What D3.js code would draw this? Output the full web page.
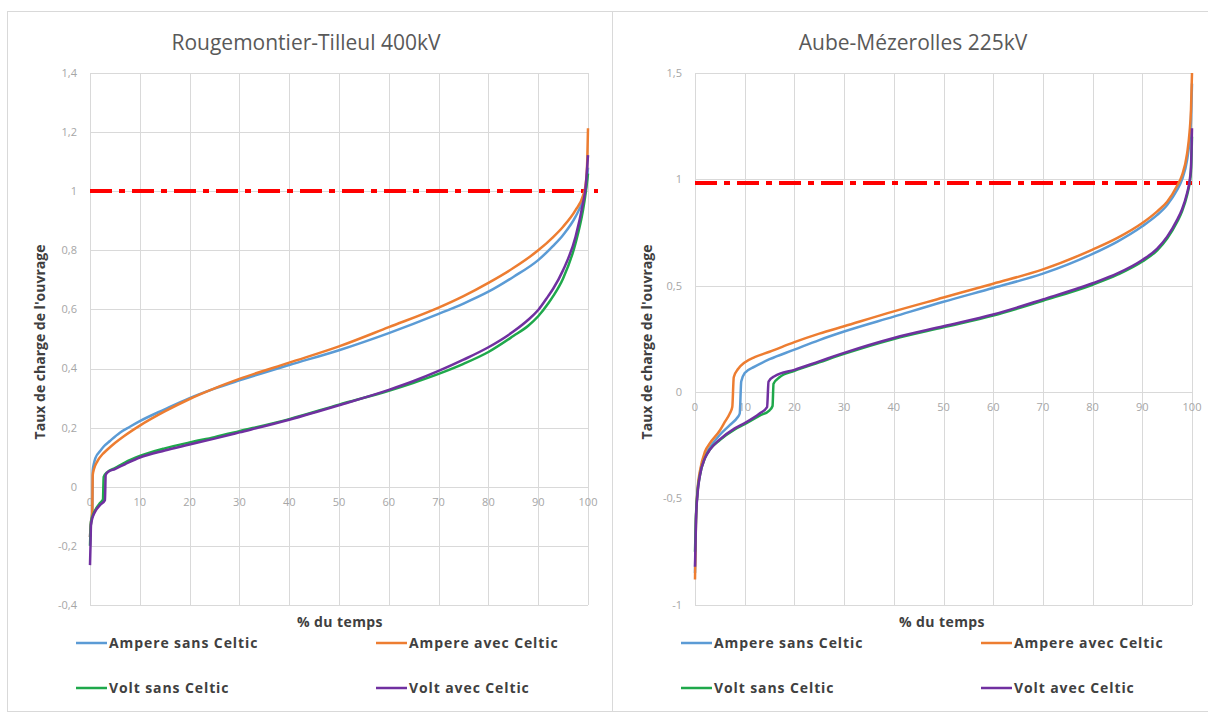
<!DOCTYPE html>
<html><head><meta charset="utf-8">
<script src="https://cdn.jsdelivr.net/npm/d3@7"></script>
<style>
html,body{margin:0;padding:0;background:#fff;}
svg{display:block;font-family:"Open Sans","Noto Sans",sans-serif;}
</style></head>
<body>
<svg id="c" width="1208" height="713"></svg>
<script>
// ---------- DATA ----------
const seriesNames = ["Ampere sans Celtic","Ampere avec Celtic","Volt sans Celtic","Volt avec Celtic"];
const seriesColors = ["#5b9bd5","#ed7d31","#1fa84b","#7030a0"];
const xTicks = [0,10,20,30,40,50,60,70,80,90,100];

// Left chart : Rougemontier-Tilleul 400kV
const leftTitle = "Rougemontier-Tilleul 400kV";
const leftYTicks = [-0.4,-0.2,0,0.2,0.4,0.6,0.8,1,1.2,1.4];
const leftLimit = 1.0;
const leftAmpSansX = [0,0.2,0.45,0.55,0.8,1.1,2,2.8,4,6,8,10,15,20,25,30,40,50,60,70,75,80,85,90,93,95,97.5,99,99.5,99.8,100];
const leftAmpSansY = [-0.17,-0.12,-0.09,0.055,0.08,0.098,0.12,0.137,0.155,0.183,0.203,0.222,0.262,0.3,0.332,0.36,0.412,0.462,0.52,0.585,0.62,0.66,0.71,0.767,0.815,0.852,0.914,0.97,1.0,1.04,1.08];
const leftAmpAvecX = [0,0.2,0.45,0.55,0.8,1.5,2.5,3.5,5,6.8,10,15,20,25,30,40,50,60,70,75,80,85,90,93,95,97.5,99,99.5,99.8,100];
const leftAmpAvecY = [-0.17,-0.12,-0.09,0.04,0.06,0.087,0.11,0.126,0.148,0.171,0.207,0.255,0.297,0.333,0.365,0.42,0.475,0.54,0.606,0.645,0.69,0.74,0.80,0.845,0.88,0.936,0.985,1.02,1.08,1.213];
const leftVoltSansX = [0,0.2,0.5,1,2,2.6,2.75,3.5,5,7,10,15,20,25,30,40,50,60,65,70,75,80,85,88,90,92,93,95,97.5,99,99.5,100];
const leftVoltSansY = [-0.2,-0.12,-0.1,-0.08,-0.055,-0.043,0.033,0.05,0.063,0.082,0.104,0.13,0.15,0.168,0.188,0.229,0.278,0.325,0.352,0.382,0.416,0.456,0.51,0.545,0.577,0.62,0.645,0.705,0.824,0.936,0.99,1.06];
const leftVoltAvecX = [0,0.1,0.2,0.5,1,2,3,3.15,3.6,5,7,10,15,20,25,30,40,50,60,65,70,75,80,85,88,90,92,93,95,97.5,99,99.5,100];
const leftVoltAvecY = [-0.265,-0.2,-0.13,-0.105,-0.085,-0.062,-0.045,0.04,0.05,0.06,0.076,0.099,0.123,0.143,0.163,0.184,0.227,0.276,0.328,0.358,0.392,0.43,0.472,0.525,0.565,0.598,0.645,0.67,0.733,0.846,0.96,1.01,1.122];

// Right chart : Aube-Mézerolles 225kV
const rightTitle = "Aube-Mézerolles 225kV";
const rightYTicks = [-1,-0.5,0,0.5,1,1.5];
const rightLimit = 0.985;
const rightAmpSansX = [0,0.2,0.5,1,2,3,5,7,8.5,9,9.3,10,12,15,20,25,30,40,50,60,70,80,85,90,93,95,97,98,99,99.5,99.8,100];
const rightAmpSansY = [-0.85,-0.6,-0.47,-0.38,-0.3,-0.26,-0.2,-0.155,-0.12,-0.1,0.05,0.09,0.12,0.155,0.2,0.245,0.285,0.355,0.425,0.49,0.557,0.65,0.708,0.78,0.833,0.88,0.95,1.0,1.09,1.18,1.28,1.45];
const rightAmpAvecX = [0,0.2,0.5,1,2,3,5,6,7,7.5,7.8,8.7,10,12,15,20,25,30,40,50,60,70,80,85,90,93,95,97,98,99,99.5,99.8,100];
const rightAmpAvecY = [-0.88,-0.6,-0.46,-0.37,-0.28,-0.24,-0.18,-0.14,-0.1,-0.07,0.07,0.11,0.14,0.165,0.19,0.235,0.275,0.31,0.38,0.445,0.51,0.577,0.67,0.725,0.795,0.85,0.895,0.97,1.02,1.12,1.22,1.33,1.5];
const rightVoltSansX = [0,0.2,0.5,1,2,3,5,8,10,13,15,15.6,15.8,17,20,25,30,40,50,60,70,80,85,90,93,95,97,98,99,99.5,99.8,100];
const rightVoltSansY = [-0.75,-0.58,-0.47,-0.39,-0.31,-0.27,-0.225,-0.175,-0.15,-0.11,-0.085,-0.065,0.04,0.07,0.1,0.14,0.18,0.25,0.305,0.36,0.43,0.505,0.552,0.614,0.667,0.722,0.8,0.85,0.925,0.98,1.04,1.2];
const rightVoltAvecX = [0,0.2,0.5,1,2,3,5,8,10,13,14.5,14.8,16,20,25,30,40,50,60,70,80,85,90,93,95,97,98,99,99.5,99.8,100];
const rightVoltAvecY = [-0.82,-0.6,-0.48,-0.39,-0.31,-0.27,-0.222,-0.17,-0.145,-0.1,-0.07,0.05,0.075,0.105,0.145,0.185,0.255,0.31,0.365,0.436,0.512,0.558,0.621,0.675,0.731,0.81,0.86,0.935,0.99,1.06,1.24];

// ---------- DRAW ----------
const svg = d3.select("#c");
const fmt = v => (Math.round(v*10)/10).toString().replace(".", ",");

function zipXY(xs, ys){ return xs.map((x,i)=>({x:x, y:ys[i]})); }

function drawPanel(p){
  const g = svg.append("g");
  g.append("rect").attr("x",p.box[0]).attr("y",p.box[1]).attr("width",p.box[2]).attr("height",p.box[3])
    .attr("fill","#fff").attr("stroke","#d9d9d9").attr("stroke-width",1);

  const x = d3.scaleLinear().domain([0,100]).range([p.x0,p.x1]);
  const y = d3.scaleLinear().domain([p.yTicks[0], p.yTicks[p.yTicks.length-1]]).range([p.y1,p.y0]);

  // gridlines
  g.append("g").selectAll("line").data(xTicks).join("line")
    .attr("x1",d=>Math.round(x(d))+0.5).attr("x2",d=>Math.round(x(d))+0.5)
    .attr("y1",y.range()[1]).attr("y2",y.range()[0])
    .attr("stroke","#d9d9d9").attr("stroke-width",1);
  g.append("g").selectAll("line").data(p.yTicks).join("line")
    .attr("x1",x(0)).attr("x2",x(100))
    .attr("y1",d=>Math.round(y(d))+0.5).attr("y2",d=>Math.round(y(d))+0.5)
    .attr("stroke","#d9d9d9").attr("stroke-width",1);

  // y tick labels
  g.append("g").selectAll("text").data(p.yTicks).join("text")
    .attr("x",p.x0-13).attr("y",d=>y(d)).attr("dy","0.35em")
    .attr("text-anchor","end").attr("font-size",11).attr("fill","#a6a6a6")
    .text(fmt);
  // x tick labels (at the zero line)
  g.append("g").selectAll("text").data(xTicks).join("text")
    .attr("x",d=>x(d)).attr("y",y(0)+19)
    .attr("text-anchor","middle").attr("font-size",11).attr("fill","#a6a6a6")
    .text(d=>d);

  // limit line
  g.append("line").attr("x1",x(0)).attr("x2",x(100)+p.limitExt)
    .attr("y1",Math.round(y(p.limit))).attr("y2",Math.round(y(p.limit)))
    .attr("stroke","#ff0000").attr("stroke-width",4)
    .attr("stroke-dasharray","22,7,6,7");

  // series
  const line = d3.line().x(d=>x(d.x)).y(d=>y(d.y)).curve(d3.curveMonotoneX);
  p.series.forEach((s,i)=>{
    g.append("path").datum(s).attr("d",line).attr("fill","none")
      .attr("stroke",seriesColors[i]).attr("stroke-width",2.5).attr("stroke-linejoin","round");
  });

  // title
  g.append("text").attr("x",p.titleX).attr("y",50).attr("text-anchor","middle")
    .attr("font-size",21).attr("fill","#595959").text(p.title);
  // y axis title
  g.append("text").attr("transform",`translate(${p.yTitleX},342) rotate(-90)`)
    .attr("text-anchor","middle").attr("font-size",14).attr("font-weight","bold")
    .attr("fill","#404040").text("Taux de charge de l'ouvrage");
  // x axis title
  g.append("text").attr("x",p.xTitleX).attr("y",627).attr("text-anchor","middle")
    .attr("font-size",14).attr("font-weight","bold").attr("fill","#404040")
    .attr("letter-spacing","0.4px").text("% du temps");

  // legend
  const legPos = [[p.leg[0],643],[p.leg[1],643],[p.leg[0],688],[p.leg[1],688]];
  seriesNames.forEach((n,i)=>{
    const [lx,ly] = legPos[i];
    g.append("line").attr("x1",lx).attr("x2",lx+31).attr("y1",ly).attr("y2",ly)
      .attr("stroke",seriesColors[i]).attr("stroke-width",2.5);
    g.append("text").attr("x",lx+33).attr("y",ly).attr("dy","0.35em")
      .attr("font-size",14).attr("font-weight","bold").attr("fill","#404040")
      .attr("letter-spacing","0.9px").text(n);
  });
}

drawPanel({
  box:[7.5,11.5,605,700], x0:90, x1:588, y0:73, y1:605,
  yTicks:leftYTicks, limit:leftLimit, limitExt:10,
  title:leftTitle, titleX:306, yTitleX:45, xTitleX:340, leg:[76,376],
  series:[zipXY(leftAmpSansX,leftAmpSansY), zipXY(leftAmpAvecX,leftAmpAvecY),
          zipXY(leftVoltSansX,leftVoltSansY), zipXY(leftVoltAvecX,leftVoltAvecY)]
});
drawPanel({
  box:[612.5,11.5,600,700], x0:695, x1:1192, y0:73, y1:605,
  yTicks:rightYTicks, limit:rightLimit, limitExt:8,
  title:rightTitle, titleX:913, yTitleX:652, xTitleX:942, leg:[681,981],
  series:[zipXY(rightAmpSansX,rightAmpSansY), zipXY(rightAmpAvecX,rightAmpAvecY),
          zipXY(rightVoltSansX,rightVoltSansY), zipXY(rightVoltAvecX,rightVoltAvecY)]
});
</script>
</body></html>
